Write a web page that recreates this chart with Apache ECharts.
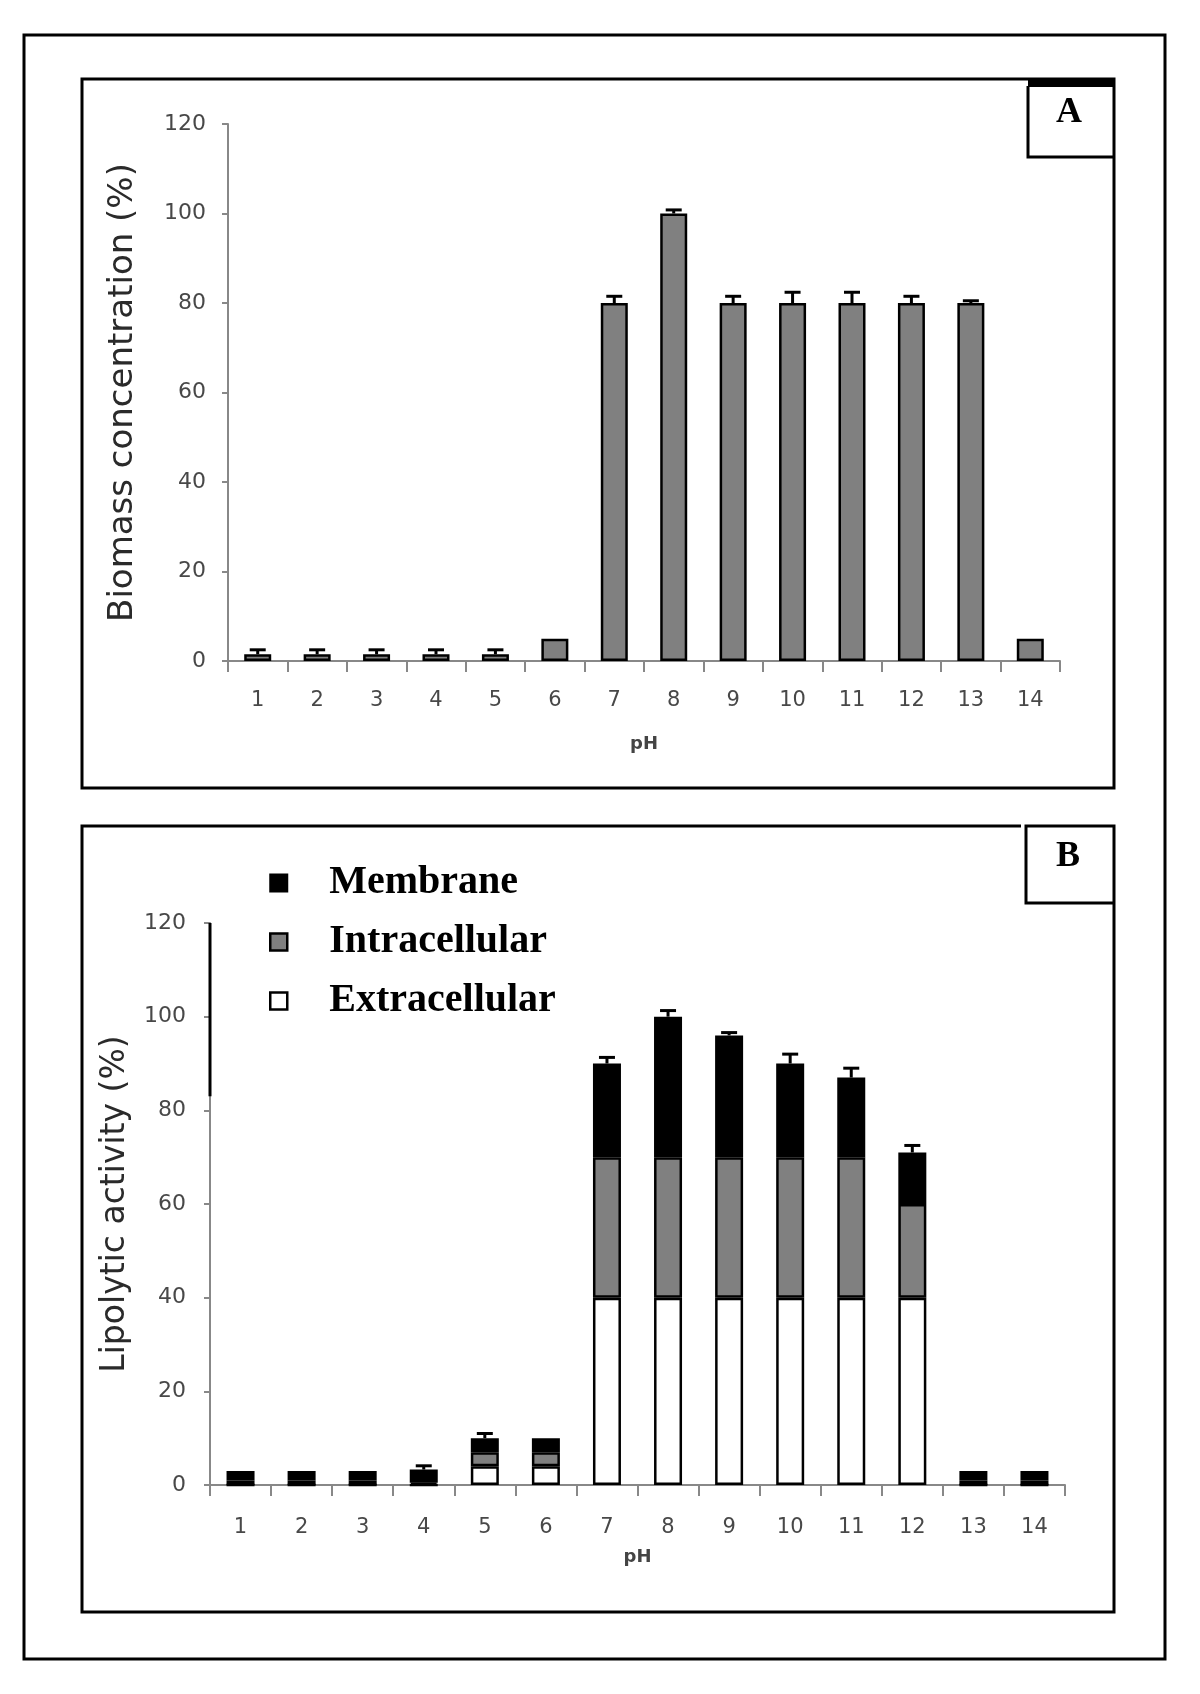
<!DOCTYPE html>
<html>
<head>
<meta charset="utf-8">
<script src="https://cdn.jsdelivr.net/npm/echarts@6/dist/echarts.min.js"></script>
<style>
html,body{margin:0;padding:0;background:#fff;}
#chart{width:1200px;height:1694px;}
</style>
</head>
<body>
<div id="chart"></div>
<script>
// ---- Data ----
const phCategories = ['1','2','3','4','5','6','7','8','9','10','11','12','13','14'];
const yTicks = [0,20,40,60,80,100,120];

// Panel A: biomass concentration (%)
const biomass    = [1.5,1.5,1.5,1.5,1.5,5,80,100,80,80,80,80,80,5];
const biomassErr = [1,1,1,1,1,0,1.5,0.8,1.5,2.4,2.4,1.5,0.5,0];

// Panel B: lipolytic activity (%), stacked
const extracellular = [0,0,0,0,4,4,40,40,40,40,40,40,0,0];
const intracellular = [1,1,1,0.5,3,3,30,30,30,30,30,20,1,1];
const membrane      = [2,2,2,2.8,3,3,20,30,26,20,17,11,2,2];
const lipolyticErr  = [0,0,0,0.8,1,0,1.3,1.3,0.6,2,2,1.5,0,0];

// ---- Build ----
const totalB = phCategories.map((_, i) => extracellular[i] + intracellular[i] + membrane[i]);
const errA = phCategories.map((_, i) => [i, biomass[i], biomassErr[i]]);
const errB = phCategories.map((_, i) => [i, totalB[i], lipolyticErr[i]]);

function errRender(params, api) {
  const x = api.value(0), v = api.value(1), e = api.value(2);
  if (!e) return null;
  const top = api.coord([x, v + e]);
  const base = api.coord([x, v]);
  const hw = 8;
  return {
    type: 'group',
    children: [
      { type: 'line', shape: { x1: top[0], y1: top[1], x2: base[0], y2: base[1] }, style: { stroke: '#000', lineWidth: 3 } },
      { type: 'line', shape: { x1: top[0] - hw, y1: top[1], x2: top[0] + hw, y2: top[1] }, style: { stroke: '#000', lineWidth: 3 } }
    ]
  };
}

const axisGray = '#888888';
const labelColor = '#484848';
const sans = 'DejaVu Sans';
const serif = 'Liberation Serif';

function makeX(gridIndex, margin, nameGap) {
  return {
    type: 'category', gridIndex: gridIndex, data: phCategories,
    name: 'pH', nameLocation: 'middle', nameGap: nameGap,
    nameTextStyle: { fontFamily: sans, fontWeight: 'bold', fontSize: 18, color: '#444' },
    axisLine: { lineStyle: { color: axisGray, width: 2 } },
    axisTick: { show: true, length: 11, lineStyle: { color: axisGray, width: 2 } },
    axisLabel: { fontFamily: sans, fontSize: 21, color: labelColor, margin: margin, interval: 0 },
    splitLine: { show: false }
  };
}
function makeY(gridIndex, name, nameGap, margin, nameSize) {
  return {
    type: 'value', gridIndex: gridIndex, min: 0, max: 120, interval: 20,
    name: name, nameLocation: 'middle', nameGap: nameGap, nameRotate: 90,
    nameTextStyle: { fontFamily: sans, fontSize: nameSize, color: '#2a2a2a' },
    axisLine: { show: true, lineStyle: { color: axisGray, width: 2 } },
    axisTick: { show: true, length: 6, lineStyle: { color: axisGray, width: 2 } },
    axisLabel: { fontFamily: sans, fontSize: 22, color: labelColor, margin: margin,
      formatter: v => (yTicks.indexOf(v) >= 0 ? String(v) : '') },
    splitLine: { show: false }
  };
}

const chart = echarts.init(document.getElementById('chart'), null, { renderer: 'canvas' });

const frameStyle = { stroke: '#000', lineWidth: 3, fill: null };
const option = {
  backgroundColor: '#fff',
  animation: false,
  grid: [
    { left: 228, right: 140, top: 124, bottom: 1033 },
    { left: 210, right: 135, top: 923, bottom: 209 }
  ],
  xAxis: [ makeX(0, 29, 74), makeX(1, 32, 63) ],
  yAxis: [ makeY(0, 'Biomass concentration (%)', 88, 22, 34), makeY(1, 'Lipolytic activity (%)', 78, 24, 33) ],
  legend: {
    orient: 'vertical', left: 264, top: 858, itemWidth: 17, itemHeight: 17, itemGap: 19,
    icon: 'rect',
    textStyle: { fontFamily: serif, fontWeight: 'bold', fontSize: 40, color: '#000', padding: [0, 0, 0, 37] },
    data: [
      { name: 'Membrane', itemStyle: { color: '#000', borderColor: '#000', borderWidth: 2 } },
      { name: 'Intracellular', itemStyle: { color: '#808080', borderColor: '#000', borderWidth: 2.5 } },
      { name: 'Extracellular', itemStyle: { color: '#fff', borderColor: '#000', borderWidth: 2.5 } }
    ]
  },
  graphic: [
    { id: 'outer', type: 'rect', shape: { x: 24, y: 35, width: 1141, height: 1624 }, style: frameStyle, z: 0 },
    { id: 'panelA', type: 'rect', shape: { x: 82, y: 79, width: 1032, height: 709 }, style: frameStyle, z: 0 },
    { id: 'Abar', type: 'rect', shape: { x: 1028, y: 78, width: 87, height: 9 }, style: { fill: '#000' }, z: 0 },
    { id: 'Abox', type: 'polyline', shape: { points: [[1028, 86], [1028, 157], [1114, 157]] }, style: { stroke: '#000', lineWidth: 3, fill: null }, z: 0 },
    { id: 'Atext', type: 'text', x: 1069, y: 113, style: { text: 'A', fontFamily: serif, fontWeight: 'bold', fontSize: 36, fill: '#000', align: 'center', verticalAlign: 'middle' }, z: 1 },
    { id: 'panelB', type: 'polyline', shape: { points: [[1021, 826], [82, 826], [82, 1612], [1114, 1612], [1114, 826], [1026, 826], [1026, 903], [1114, 903]] }, style: { stroke: '#000', lineWidth: 3, fill: null }, z: 0 },
    { id: 'Btext', type: 'text', x: 1068, y: 857, style: { text: 'B', fontFamily: serif, fontWeight: 'bold', fontSize: 36, fill: '#000', align: 'center', verticalAlign: 'middle' }, z: 1 }
  ],
  series: [
    { name: 'Biomass', type: 'bar', xAxisIndex: 0, yAxisIndex: 0, data: biomass, barWidth: 27,
      itemStyle: { color: '#808080', borderColor: '#000', borderWidth: 2.5 } },
    { name: 'BiomassErr', type: 'custom', xAxisIndex: 0, yAxisIndex: 0, data: errA, renderItem: errRender, z: 5 },
    { name: 'Extracellular', type: 'bar', stack: 'B', xAxisIndex: 1, yAxisIndex: 1, data: extracellular, barWidth: 28,
      itemStyle: { color: '#fff', borderColor: '#000', borderWidth: 2.5 } },
    { name: 'Intracellular', type: 'bar', stack: 'B', xAxisIndex: 1, yAxisIndex: 1, data: intracellular, barWidth: 28,
      itemStyle: { color: '#808080', borderColor: '#000', borderWidth: 2.5 } },
    { name: 'Membrane', type: 'bar', stack: 'B', xAxisIndex: 1, yAxisIndex: 1, data: membrane, barWidth: 28,
      itemStyle: { color: '#000', borderColor: '#000', borderWidth: 2.5 } },
    { name: 'LipolyticErr', type: 'custom', xAxisIndex: 1, yAxisIndex: 1, data: errB, renderItem: errRender, z: 5 }
  ]
};
chart.setOption(option);

// dark upper segment of panel B's value axis line (as in the reference)
const yTop = chart.convertToPixel({ yAxisIndex: 1 }, 120);
const yMid = chart.convertToPixel({ yAxisIndex: 1 }, 83);
chart.setOption({ graphic: [{ id: 'ySeg', type: 'line', shape: { x1: 210, y1: yTop, x2: 210, y2: yMid }, style: { stroke: '#000', lineWidth: 3 }, z: 10 }] });
</script>
</body>
</html>
